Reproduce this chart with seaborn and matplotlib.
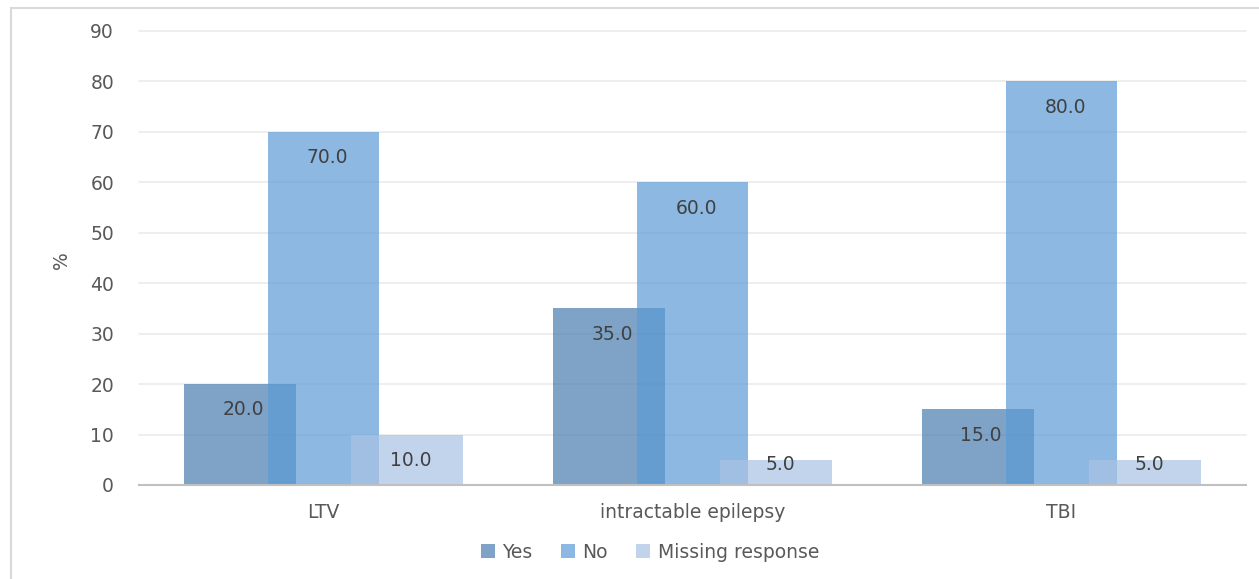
import numpy as np
import pandas as pd
import seaborn as sns
import matplotlib.pyplot as plt
from matplotlib.patches import Rectangle

categories = ["LTV", "intractable epilepsy", "TBI"]
responses = ["Yes", "No", "Missing response"]
yes_vals = [20.0, 35.0, 15.0]
no_vals = [70.0, 60.0, 80.0]
missing_vals = [10.0, 5.0, 5.0]

colors = ["#487CB0", "#5B9BD5", "#A9C3E4"]

df = pd.DataFrame({
    "category": categories * 3,
    "response": np.repeat(responses, 3),
    "value": yes_vals + no_vals + missing_vals,
})

sns.set_style("white")
plt.rcParams["font.family"] = ["DejaVu Sans"]

fig = plt.figure(figsize=(12.59, 5.79), dpi=100)
ax = fig.add_axes([139 / 1259, 1 - 485 / 579, (1246 - 139) / 1259, (485 - 31) / 579])

# offset between series 0.2276, bars wider than offset -> overlap like Excel
step = 0.2276
bar_w = 0.3035
sns.barplot(data=df, x="category", y="value", hue="response", hue_order=responses,
            palette=colors, dodge=True, width=step * 3, alpha=0.7,
            saturation=1, errorbar=None, ax=ax, legend=False, zorder=2)

for p in ax.patches:
    cx = p.get_x() + p.get_width() / 2
    p.set_width(bar_w)
    p.set_x(cx - bar_w / 2)
    p.set_linewidth(0)

# value labels inside the end of each bar
for i, vals in enumerate([yes_vals, no_vals, missing_vals]):
    for j, v in enumerate(vals):
        x = j + (i - 1) * step + 0.01
        y = max(v - 5.1, 4.0)
        ax.text(x, y, f"{v:.1f}", ha="center", va="center", fontsize=13.5,
                color="#404040", zorder=3)

ax.set_ylim(0, 90)
ax.set_xlim(-0.5, 2.5)
ax.set_yticks(np.arange(0, 91, 10))
ax.yaxis.grid(True, color="#EBEBEB", linewidth=1.2, zorder=0)
for gl in ax.get_ygridlines():
    gl.set_clip_on(False)
ax.set_axisbelow(True)
for s in ["top", "right", "left"]:
    ax.spines[s].set_visible(False)
ax.spines["bottom"].set_color("#C0C0C0")
ax.spines["bottom"].set_linewidth(1.5)
ax.tick_params(axis="both", length=0, labelsize=13.5, labelcolor="#595959")
ax.tick_params(axis="y", pad=18)
ax.tick_params(axis="x", pad=13)
ax.set_xlabel("")
ax.set_ylabel("%", fontsize=13.5, color="#595959")
ax.yaxis.set_label_coords(-68 / 1107, (485 - 260) / 454)

handles = [Rectangle((0, 0), 1, 1, facecolor=c, alpha=0.7, linewidth=0) for c in colors]
fig.legend(handles, responses, loc="center", bbox_to_anchor=(650 / 1259, 1 - 552 / 579),
           ncol=3, frameon=False, fontsize=13.5, labelcolor="#595959",
           handlelength=0.75, handleheight=0.75, handletextpad=0.4, columnspacing=1.5)

fig.patches.append(Rectangle((11 / 1259, -0.01), 1.1, 1 - 8 / 579 + 0.01,
                             transform=fig.transFigure, fill=False,
                             edgecolor="#D9D9D9", linewidth=1.5))

fig.savefig("out.png", dpi=100)
